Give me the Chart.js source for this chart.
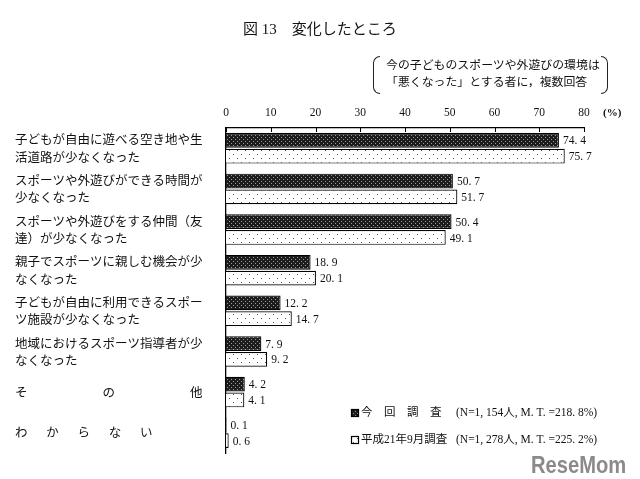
<!DOCTYPE html>
<html lang="ja">
<head>
<meta charset="utf-8">
<script src="https://cdn.jsdelivr.net/npm/chart.js@4/dist/chart.umd.min.js"></script>
<style>
  html,body{margin:0;padding:0;background:#fff;}
  #wrap{position:relative;width:640px;height:479px;overflow:hidden;font-family:'Liberation Serif','Noto Sans CJK JP',serif;color:#111;}
  #c{position:absolute;left:0;top:0;}
  .title{position:absolute;left:0;width:640px;top:17px;text-align:center;font-size:15px;}
  .note{position:absolute;left:386px;top:57px;font-size:11.9px;line-height:17px;white-space:nowrap;}
  .br{position:absolute;top:56px;width:6px;height:36px;border:1.3px solid #222;}
  .br.l{left:373px;border-right:none;border-radius:8px 0 0 8px;}
  .br.r{left:601px;border-left:none;border-radius:0 8px 8px 0;}
  .logo{position:absolute;left:531px;top:453px;font-family:'Liberation Sans',sans-serif;font-weight:bold;font-size:24px;line-height:24px;color:#8a8a8a;transform:scaleX(0.84);transform-origin:left top;}
</style>
</head>
<body>
<div id="wrap">
  <canvas id="c" width="640" height="479"></canvas>
  <div class="title">図 13　変化したところ</div>
  <div class="br l"></div>
  <div class="note">今の子どものスポーツや外遊びの環境は<br>「悪くなった」とする者に，複数回答</div>
  <div class="br r"></div>
  <div class="logo">ReseMom</div>
</div>
<script>
// 項目
const kategori = [
    ['子どもが自由に遊べる空き地や生','活道路が少なくなった'],
    ['スポーツや外遊びができる時間が','少なくなった'],
    ['スポーツや外遊びをする仲間（友','達）が少なくなった'],
    ['親子でスポーツに親しむ機会が少','なくなった'],
    ['子どもが自由に利用できるスポー','ツ施設が少なくなった'],
    ['地域におけるスポーツ指導者が少','なくなった'],
    'そ　　　　　　の　　　　　　他',
    'わ　  か　  ら　  な　  い'
];
const konkai = [74.4, 50.7, 50.4, 18.9, 12.2, 7.9, 4.2, 0.1];
const h21    = [75.7, 51.7, 49.1, 20.1, 14.7, 9.2, 4.1, 0.6];
const tickX  = [0,10,20,30,40,50,60,70,80];
const legendText = [
    ['今　回　調　査', '(N=1, 154人, M. T. =218. 8%)'],
    ['平成21年9月調査', '(N=1, 278人, M. T. =225. 2%)']
];

const FONT = "'Liberation Serif','Noto Sans CJK JP',serif";

// pola arsiran
function polaGelap(){
    const c = document.createElement('canvas');
    c.width = 4; c.height = 4;
    const g = c.getContext('2d');
    g.fillStyle = '#1c1c1c'; g.fillRect(0,0,4,4);
    g.fillStyle = '#9a9a9a';
    g.fillRect(1,1,1,1); g.fillRect(3,3,1,1);
    return g.createPattern(c,'repeat');
}
function polaTerang(){
    const c = document.createElement('canvas');
    c.width = 8; c.height = 8;
    const g = c.getContext('2d');
    g.fillStyle = '#fff'; g.fillRect(0,0,8,8);
    g.fillStyle = '#555';
    g.fillRect(1,2,1,1); g.fillRect(5,6,1,1);
    return g.createPattern(c,'repeat');
}
const pGelap = polaGelap();
const pTerang = polaTerang();

const fmt = v => v.toFixed(1).replace('.', '. ');

// ===============================
// PLUGIN: label nilai, tick, legend
// ===============================
const extras = {
    id:'extras',
    afterDatasetsDraw(chart){
        const ctx = chart.ctx;
        const area = chart.chartArea;
        const sx = chart.scales.x;
        ctx.save();
        // tick ke dalam
        ctx.strokeStyle = '#000'; ctx.lineWidth = 1;
        tickX.forEach(t=>{
            const x = Math.round(sx.getPixelForValue(t))+0.5;
            ctx.beginPath(); ctx.moveTo(x, area.top); ctx.lineTo(x, area.top+4); ctx.stroke();
        });
        // (%)
        ctx.fillStyle = '#111';
        ctx.font = 'bold 11px '+FONT;
        ctx.textBaseline = 'middle';
        ctx.fillText('(%)', area.right+19, 113);
        // nilai
        ctx.font = '11.5px '+FONT;
        chart.data.datasets.forEach((ds,di)=>{
            chart.getDatasetMeta(di).data.forEach((bar,i)=>{
                ctx.fillText(fmt(ds.data[i]), bar.x+4, bar.y+1);
            });
        });
        // legend
        const lx = 351, ly = [413, 440];
        ctx.font = '11.5px '+FONT;
        [pGelap, pTerang].forEach((p,i)=>{
            ctx.fillStyle = p;
            ctx.fillRect(lx, ly[i]-4, 8, 8);
            ctx.strokeStyle = '#000'; ctx.lineWidth = 1.2;
            ctx.strokeRect(lx+0.5, ly[i]-3.5, 7, 7);
            ctx.fillStyle = '#111';
            ctx.fillText(legendText[i][0], lx+10, ly[i]);
            ctx.fillText(legendText[i][1], 456, ly[i]);
        });
        ctx.restore();
    }
};

new Chart(document.getElementById('c'),{
    type:'bar',
    data:{
        labels:kategori,
        datasets:[
            {label:'今回調査', data:konkai, backgroundColor:pGelap, borderColor:'#000', borderWidth:1.2,
             categoryPercentage:0.78, barPercentage:0.93},
            {label:'平成21年9月調査', data:h21, backgroundColor:pTerang, borderColor:'#000', borderWidth:1.2,
             categoryPercentage:0.78, barPercentage:0.93}
        ]
    },
    options:{
        indexAxis:'y',
        responsive:false,
        animation:false,
        layout:{padding:{left:15, top:100, right:56, bottom:26}},
        plugins:{legend:{display:false}, tooltip:{enabled:false}},
        scales:{
            x:{
                position:'top',
                min:0, max:80,
                afterBuildTicks: s => { s.ticks = tickX.map(v=>({value:v})); },
                afterFit: s => { s.height = 28; },
                grid:{display:false, drawTicks:false},
                border:{display:true, color:'#000', width:1.2},
                ticks:{padding:8, color:'#111', font:{family:FONT, size:11.5}}
            },
            y:{
                afterFit: s => { s.width = 211; },
                grid:{display:false, drawTicks:false},
                border:{display:true, color:'#000', width:1.3},
                ticks:{crossAlign:'far', labelOffset:1.5, color:'#111', font:{family:FONT, size:12.5, lineHeight:1.38}}
            }
        }
    },
    plugins:[extras]
});
</script>
</body>
</html>
